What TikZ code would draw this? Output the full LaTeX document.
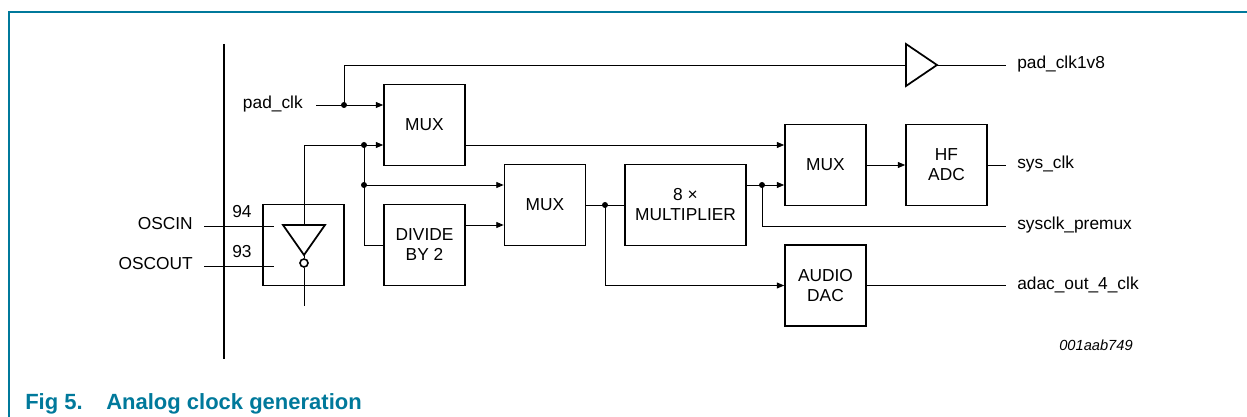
\documentclass[tikz,border=0pt]{standalone}
\usepackage{fontspec}
\setmainfont{Liberation Sans}
\usetikzlibrary{arrows.meta}
\definecolor{nxpteal}{RGB}{0,121,155}
\newcommand{\lblfont}{\fontsize{13}{15}\selectfont}

\begin{document}
\begin{tikzpicture}[x=0.75pt,y=0.75pt,yscale=-1,xscale=1,
  blk/.style={draw,line width=1.3pt,minimum width=60.75pt,minimum height=60.75pt,inner sep=0pt,align=center,font=\lblfont},
  wire/.style={line width=0.65pt},
  arr/.style={wire,-{Triangle[length=5.5pt,width=4.5pt]}},
  jdot/.style={circle,fill,inner sep=0pt,minimum size=4.5pt},
  lbl/.style={inner sep=0pt,font=\lblfont}]
\useasboundingbox (0,0) rectangle (1247,417);

%Frame
\draw [nxpteal,line width=0.9pt] (9,417) -- (9,12) -- (1247,12);
%Pin bar
\draw [line width=1.7pt] (224,44) -- (224,359);

%Blocks
\node [blk] (osc) at (303.5,245) {};
\node [blk] (mux1) at (424.5,125) {MUX};
\node [blk] (div) at (424.5,245) {DIVIDE\\BY 2};
\node [blk] (mux2) at (545,205) {MUX};
\node [blk,minimum width=90.75pt] (mult) at (685.5,205) {8 ×\\MULTIPLIER};
\node [blk] (mux3) at (825.5,165) {MUX};
\node [blk] (adc) at (946.5,165) {HF\\ADC};
\node [blk] (dac) at (825.5,285.5) {AUDIO\\DAC};

%Inverter in oscillator
\draw [line width=1.3pt] (283,225) -- (325,225) -- (304,255) -- cycle;
\node [circle,draw,line width=1.2pt,minimum size=6pt,inner sep=0pt] (bub) at (304,263) {};
\coordinate (invin) at (304,225);
\coordinate (invtip) at (304,255);
\coordinate (oscend) at (304,306);
\draw [wire] (invtip) -- (bub.north);
\draw [wire] (bub.south) -- (oscend);

%Output buffer
\draw [line width=1.3pt] (906,44) -- (937,65) -- (906,86) -- cycle;
\coordinate (bufin) at (906,65);
\coordinate (bufout) at (937,65);

%Pins
\node [lbl,anchor=mid east] (oscin) at (193,226) {OSCIN};
\node [lbl,anchor=mid east] (oscout) at (193,266) {OSCOUT};
\node [lbl] (n94) at (242,212) {94};
\node [lbl] (n93) at (242,252) {93};
\coordinate (pin94) at (204,226);
\coordinate (pin93) at (204,266);
\draw [wire] (pin94) -- (274,226);
\draw [wire] (pin93) -- (274,266);
\node [lbl,anchor=mid east] (padclk) at (303,105) {pad\_clk};
\coordinate (pin) at (316,105);

%Junctions
\coordinate (jp) at (344,105);
\coordinate (jo) at (364,145);
\coordinate (jd) at (364,185);
\coordinate (jm) at (605,205);
\coordinate (jx) at (762,185);

%Output ends and labels
\coordinate (opad) at (1006,65);
\coordinate (osys) at (1006,165);
\coordinate (opre) at (1006,226);
\coordinate (oadac) at (1006,285.5);
\node [lbl,anchor=mid west] (lpad) at (1017,65) {pad\_clk1v8};
\node [lbl,anchor=mid west] (lsys) at (1017,165) {sys\_clk};
\node [lbl,anchor=mid west] (lpre) at (1017,226) {sysclk\_premux};
\node [lbl,anchor=mid west] (ladac) at (1017,285.5) {adac\_out\_4\_clk};

%Connectors
\draw [arr] (pin) -- ([yshift=-15pt]mux1.west);
\draw [wire] (jp) |- (bufin);
\draw [wire] (bufout) -- (opad);
\draw [arr] (invin) |- ([yshift=15pt]mux1.west);
\draw [wire] (jo) |- (div.west);
\draw [arr] (jd) -- ([yshift=-15pt]mux2.west);
\draw [arr] ([yshift=-15pt]div.east) -- ([yshift=15pt]mux2.west);
\draw [wire] (mux2) -- (mult);
\draw [arr] (jm) |- (dac.west);
\draw [arr] ([yshift=15pt]mux1.east) -- ([yshift=-15pt]mux3.west);
\draw [wire] ([yshift=-15pt]mult.east) -- (jx);
\draw [arr] (jx) -- ([yshift=15pt]mux3.west);
\draw [wire] (jx) |- (opre);
\draw [arr] (mux3) -- (adc);
\draw [wire] (adc) -- (osys);
\draw [wire] (dac) -- (oadac);

\foreach \j in {jp,jo,jd,jm,jx} \node [jdot] at (\j) {};

%Figure id and caption
\node [inner sep=0pt,font=\fontsize{11}{13}\selectfont\itshape] (figid) at (1096,345) {001aab749};
\node [anchor=base west,inner sep=0pt,text=nxpteal,font=\fontsize{16.5}{20}\selectfont\bfseries] (capno) at (25,409) {Fig 5.};
\node [anchor=base west,inner sep=0pt,text=nxpteal,font=\fontsize{16.5}{20}\selectfont\bfseries] (captxt) at (106,409) {Analog clock generation};

\end{tikzpicture}
\end{document}
